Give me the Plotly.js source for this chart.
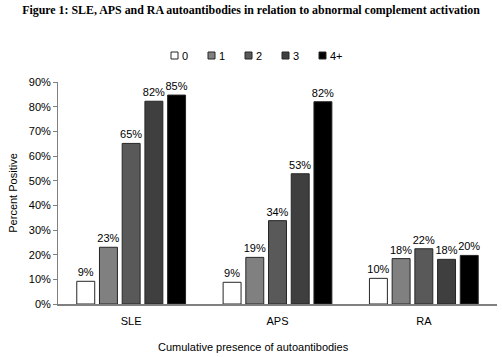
<!DOCTYPE html>
<html><head><meta charset="utf-8">
<script src="https://cdn.plot.ly/plotly-3.0.1.min.js"></script>
<style>html,body{margin:0;padding:0;background:#fff}#chart{width:502px;height:357px}</style>
</head><body><div id="chart"></div>
<script>
const categories = ["SLE", "APS", "RA"];
const seriesNames = ["0", "1", "2", "3", "4+"];
const values0 = [9.2, 8.8, 10.4];
const values1 = [23.0, 18.9, 18.4];
const values2 = [65.1, 33.8, 22.4];
const values3 = [82.2, 52.8, 18.1];
const values4 = [84.7, 82.0, 19.7];
const colors = ["#ffffff", "#808080", "#595959", "#3f3f3f", "#000000"];
const allValues = [values0, values1, values2, values3, values4];

const font = "Liberation Sans, Arial, sans-serif";
const W = 502, H = 357;
const M = {l: 58, r: 5, t: 82, b: 53};
const pw = W - M.l - M.r, ph = H - M.t - M.b;
const px2x = p => (p - M.l) / pw;
const py2y = p => (H - M.b - p) / ph;

const traces = allValues.map((v, i) => ({
  type: "bar",
  name: seriesNames[i],
  x: categories,
  y: v,
  marker: {color: colors[i], line: {color: "#262626", width: 1}},
  texttemplate: "%{y:.0f}%",
  textposition: "outside",
  cliponaxis: false,
  textfont: {family: font, size: 11, color: "#000"},
  hoverinfo: "none",
  showlegend: false
}));

// manual legend (compact, like the original)
const shapes = [];
const annotations = [];
seriesNames.forEach((n, i) => {
  const left = 171 + i * 37;
  shapes.push({type: "rect", xref: "paper", yref: "paper",
    x0: px2x(left), x1: px2x(left + 7), y0: py2y(59), y1: py2y(52),
    fillcolor: colors[i], line: {color: "#262626", width: 1}});
  annotations.push({text: n, xref: "paper", yref: "paper",
    x: px2x(left + 9), y: py2y(55.5), xanchor: "left", yanchor: "middle",
    showarrow: false, font: {family: font, size: 11, color: "#000"}});
});
annotations.push({
  text: "Cumulative presence of autoantibodies",
  xref: "paper", yref: "paper", x: px2x(253), y: py2y(347), xanchor: "center", yanchor: "middle",
  showarrow: false, font: {family: font, size: 11, color: "#000"}
});

const layout = {
  width: W, height: H,
  margin: M,
  paper_bgcolor: "#fff", plot_bgcolor: "#fff",
  barmode: "group",
  bargap: 0.224,
  bargroupgap: 0.21,
  uniformtext: {mode: "show", minsize: 11},
  font: {family: font, size: 11, color: "#000"},
  title: {
    text: "<b>Figure 1: SLE, APS and RA autoantibodies in relation to abnormal complement activation</b>",
    font: {family: "Liberation Serif, Times New Roman, serif", size: 11.9, color: "#000"},
    x: 0.5, xanchor: "center", y: 0.972, yanchor: "middle"
  },
  showlegend: false,
  xaxis: {
    showline: true, linecolor: "#808080", linewidth: 2,
    ticks: "", showgrid: false, zeroline: false, ticklabelstandoff: 6,
    tickfont: {family: font, size: 11}
  },
  yaxis: {
    range: [0, 90], dtick: 10, ticksuffix: "%",
    showline: true, linecolor: "#808080", linewidth: 1,
    ticks: "outside", ticklen: 4, tickcolor: "#808080",
    showgrid: false, zeroline: false,
    tickfont: {family: font, size: 11},
    title: {text: "Percent Positive", font: {family: font, size: 11}, standoff: 8}
  },
  shapes: shapes,
  annotations: annotations
};
Plotly.newPlot("chart", traces, layout, {displayModeBar: false, staticPlot: true});
</script></body></html>
